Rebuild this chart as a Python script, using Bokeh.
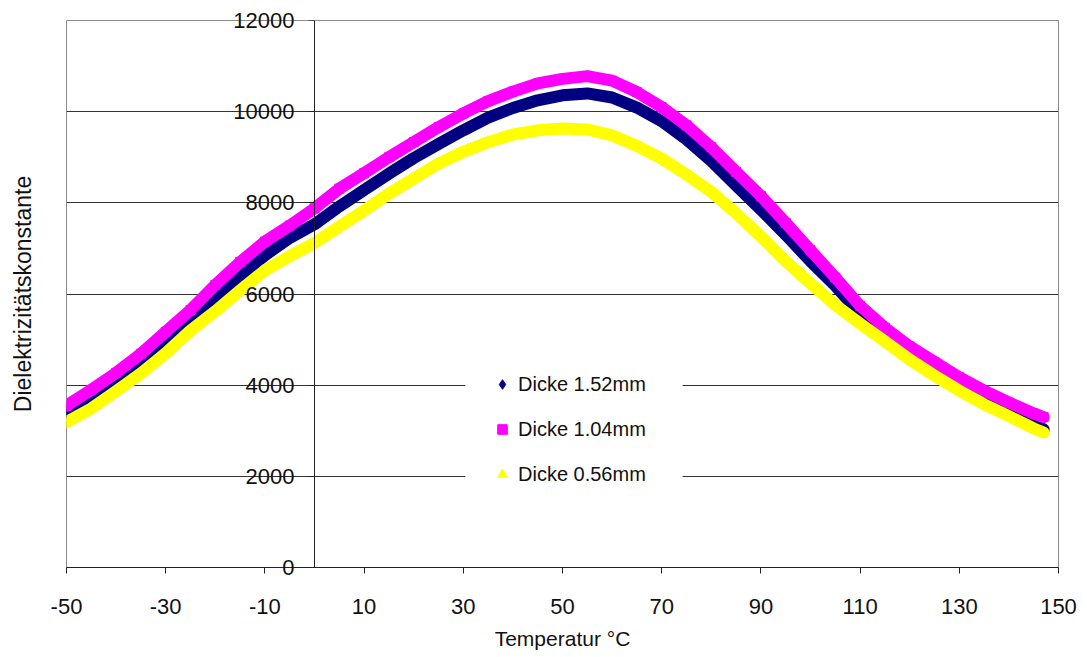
from bokeh.plotting import figure
from bokeh.models import (LinearAxis, FixedTicker, Legend, LegendItem,
                          BoxAnnotation, ColumnDataSource)
from bokeh.core.properties import value
from bokeh.embed import file_html
from bokeh.resources import INLINE

# Temperature in °C
temperature = [-50, -45, -40, -35, -30, -25, -20, -15, -10, -5, 0, 5, 10, 15, 20,
               25, 30, 35, 40, 45, 50, 55, 60, 65, 70, 75, 80, 85, 90, 95, 100,
               105, 110, 115, 120, 125, 130, 135, 140, 145, 147]

# Dicke 1.52mm
dicke_152 = [3380, 3710, 4090, 4500, 4950, 5420, 5910, 6400, 6850, 7230, 7530,
             7920, 8280, 8640, 8980, 9290, 9590, 9870, 10080, 10250, 10360, 10400,
             10310, 10090, 9790, 9390, 8920, 8380, 7850, 7300, 6720, 6180, 5570,
             5080, 4680, 4300, 3980, 3700, 3440, 3160, 3030]

# Dicke 1.04mm
dicke_104 = [3550, 3900, 4270, 4690, 5170, 5650, 6200, 6700, 7150, 7500, 7880,
             8310, 8650, 9000, 9330, 9660, 9960, 10230, 10440, 10620, 10720, 10780,
             10680, 10430, 10100, 9700, 9220, 8680, 8150, 7560, 6960, 6360, 5740,
             5260, 4850, 4510, 4170, 3880, 3620, 3380, 3300]

# Dicke 0.56mm
dicke_056 = [3190, 3490, 3870, 4260, 4700, 5200, 5620, 6080, 6520, 6830, 7120,
             7480, 7830, 8200, 8530, 8860, 9120, 9330, 9500, 9590, 9630, 9610,
             9480, 9250, 8970, 8620, 8240, 7770, 7260, 6720, 6230, 5760, 5350,
             4960, 4560, 4210, 3880, 3580, 3320, 3050, 2960]

series_labels = ["Dicke 1.52mm", "Dicke 1.04mm", "Dicke 0.56mm"]
series_colors = ["#000080", "#FF00FF", "#FFFF00"]
series_markers = ["diamond", "square", "triangle"]

x_ticks = [-50, -30, -10, 10, 30, 50, 70, 90, 110, 130, 150]
y_ticks = [0, 2000, 4000, 6000, 8000, 10000, 12000]

FONT = "Liberation Sans"
TXT = "#111111"

p = figure(width=1087, height=657, x_range=(-50, 150), y_range=(0, 12000),
           output_backend="svg", toolbar_location=None,
           min_border_left=66, min_border_right=29, min_border_top=20,
           min_border_bottom=90, background_fill_color="white",
           border_fill_color="white")

p.outline_line_color = "#8c8c8c"
p.outline_line_width = 1

# x axis
xa = p.xaxis[0]
xa.ticker = FixedTicker(ticks=x_ticks)
xa.major_label_overrides = {t: str(t) for t in x_ticks}
xa.axis_label = "Temperatur °C"
xa.axis_label_text_font = FONT
xa.axis_label_text_font_size = "21px"
xa.axis_label_text_font_style = "normal"
xa.axis_label_text_color = TXT
xa.axis_label_standoff = 10
xa.major_label_text_font = FONT
xa.major_label_text_font_size = "22px"
xa.major_label_text_color = TXT
xa.major_label_standoff = 25
xa.axis_line_color = "#222222"
xa.major_tick_line_color = "#222222"
xa.major_tick_out = 6
xa.major_tick_in = 0
xa.minor_tick_line_color = None

# y axis line and ticks at x = 0
ya = p.yaxis[0]
ya.fixed_location = 0
ya.ticker = FixedTicker(ticks=y_ticks)
ya.major_label_text_color = None
ya.axis_line_color = "#222222"
ya.major_tick_line_color = "#222222"
ya.major_tick_out = 6
ya.major_tick_in = 0
ya.minor_tick_line_color = None

# y tick labels beside the axis at x = 0 (overlay level: not clipped to the frame)
ytick_src = ColumnDataSource(dict(x=[0] * len(y_ticks), y=y_ticks,
                                  t=[str(t) for t in y_ticks]))
p.text(x="x", y="y", text="t", source=ytick_src, x_offset=-20,
       text_align="right", text_baseline="middle", text_font=value(FONT),
       text_font_size="22px", text_color=TXT, level="overlay")

# separate left axis carrying only the title
ylab = LinearAxis(ticker=FixedTicker(ticks=[]), axis_label="Dielektrizitätskonstante",
                  axis_line_color=None, major_tick_line_color=None,
                  minor_tick_line_color=None, axis_label_text_font=FONT,
                  axis_label_text_font_size="23px", axis_label_text_font_style="normal",
                  axis_label_text_color=TXT, axis_label_standoff=31)
p.add_layout(ylab, "left")

p.xgrid.visible = False
p.ygrid.ticker = FixedTicker(ticks=y_ticks)
p.ygrid.grid_line_color = "#333333"
p.ygrid.grid_line_width = 1

items = []
for vals, lab, col, mk in zip([dicke_152, dicke_104, dicke_056], series_labels,
                              series_colors, series_markers):
    p.line(temperature, vals, line_color=col, line_width=12, line_join="round",
           line_cap="round")
    r = p.scatter(temperature, vals, marker=mk, size=9, fill_color=col,
                  line_color=col)
    items.append(LegendItem(label=lab, renderers=[r]))

# white legend background area (hides the grid behind the legend)
p.add_layout(BoxAnnotation(left=30.4, right=74.2, bottom=1500, top=5000,
                           fill_color="white", fill_alpha=1.0, line_color=None))

legend = Legend(items=items, location=(424, 81), orientation="vertical",
                background_fill_color="white", background_fill_alpha=1.0,
                border_line_color=None, padding=30, spacing=21,
                glyph_width=24, glyph_height=24, label_height=20,
                label_standoff=4, label_text_font=FONT,
                label_text_font_size="20px", label_text_color=TXT,
                margin=0)
p.add_layout(legend, "center")

open("out.html", "w").write(file_html(p, INLINE))
